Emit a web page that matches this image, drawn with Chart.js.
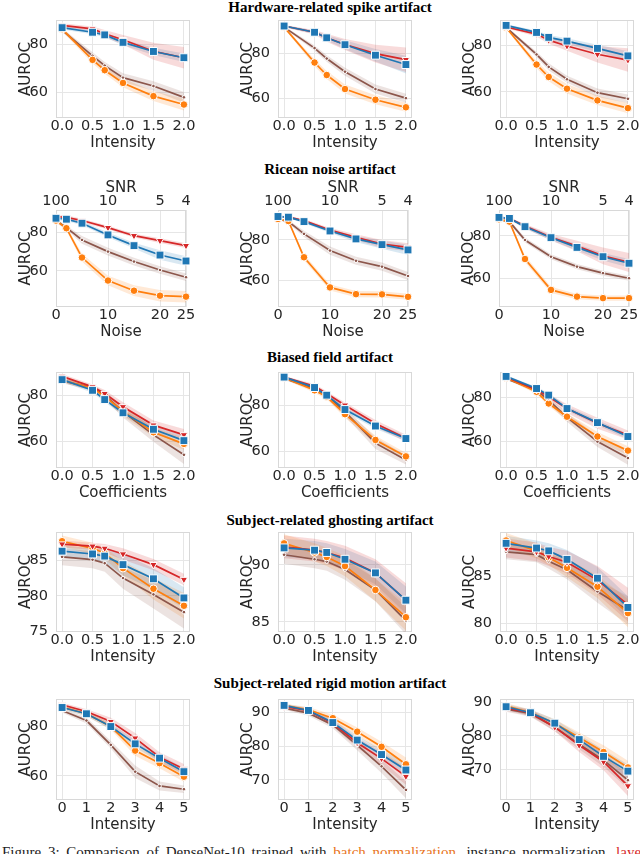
<!DOCTYPE html>
<html><head><meta charset="utf-8">
<script src="https://cdn.jsdelivr.net/npm/chart.js@4.4.1/dist/chart.umd.min.js"></script>
<style>
html,body{margin:0;padding:0;background:#fff;width:640px;height:854px;overflow:hidden;position:relative;}
.ttl{position:absolute;left:0;width:660px;text-align:center;font-family:"Liberation Serif","Times New Roman",serif;font-weight:bold;font-size:15px;line-height:15px;color:#000;white-space:nowrap;}
canvas{position:absolute;}
.cap{position:absolute;top:844px;left:2px;font-family:"Liberation Serif",serif;font-size:15px;line-height:16px;white-space:nowrap;color:#222;word-spacing:3px;}
</style></head><body>
<div class="ttl" style="top:0px">Hardware-related spike artifact</div>
<div class="ttl" style="top:162px">Ricean noise artifact</div>
<div class="ttl" style="top:350px">Biased field artifact</div>
<div class="ttl" style="top:513px">Subject-related ghosting artifact</div>
<div class="ttl" style="top:676px">Subject-related rigid motion artifact</div>
<div class="cap">Figure 3: Comparison of DenseNet-10 trained with <span style="color:#e8731a">batch normalization</span>, instance normalization, <span style="color:#d62728">layer normalization</span></div>
<script>
// ---------- x values / ticks ----------
const xIntensity = [0, 0.5, 0.7, 1.0, 1.5, 2.0];
const xIntensityTicks = [0, 0.5, 1.0, 1.5, 2.0];
const xNoise = [0, 2, 5, 10, 15, 20, 25];
const xNoiseTicks = [0, 10, 20, 25];
const snrTickPos = [0, 10, 20, 25];
const snrTickLabels = ['100', '10', '5', '4'];
const xMotion = [0, 1, 2, 3, 4, 5];
const xMotionTicks = [0, 1, 2, 3, 4, 5];

// ---------- Hardware-related spike ----------
const spikeA_red = [87.8, 86.3, 84.3, 81.8, 77.0, 74.3];
const spikeA_redSd = [0.8, 1.0, 1.5, 2.0, 3.5, 4.5];
const spikeA_blue = [86.8, 84.9, 83.8, 80.7, 76.9, 74.3];
const spikeA_blueSd = [0.8, 0.8, 1.0, 1.2, 1.5, 1.8];
const spikeA_orange = [86.2, 73.4, 69.1, 63.8, 58.3, 54.8];
const spikeA_orangeSd = [0.8, 1.5, 1.5, 1.8, 2.0, 2.5];
const spikeA_brown = [85.8, 75.1, 71.0, 66.0, 62.5, 57.8];
const spikeA_brownSd = [0.8, 1.5, 1.5, 1.8, 2.0, 2.2];

const spikeB_red = [92.4, 89.6, 87.1, 84.1, 80.0, 77.3];
const spikeB_redSd = [0.5, 1.0, 1.8, 2.5, 4.0, 5.5];
const spikeB_blue = [92.4, 89.6, 87.1, 84.0, 79.3, 75.1];
const spikeB_blueSd = [0.5, 0.8, 1.2, 2.0, 2.8, 4.0];
const spikeB_orange = [91.9, 76.0, 70.4, 64.1, 59.3, 55.9];
const spikeB_orangeSd = [0.5, 1.5, 1.8, 2.0, 2.0, 2.0];
const spikeB_brown = [91.9, 82.5, 77.8, 71.9, 64.1, 60.0];
const spikeB_brownSd = [0.5, 1.2, 1.5, 1.8, 2.0, 2.0];

const spikeC_red = [87.7, 84.7, 82.1, 79.6, 76.1, 73.6];
const spikeC_redSd = [0.5, 1.0, 1.5, 2.0, 3.5, 5.0];
const spikeC_blue = [88.4, 85.4, 83.3, 81.7, 78.6, 75.4];
const spikeC_blueSd = [0.5, 0.8, 1.0, 1.2, 1.5, 2.0];
const spikeC_orange = [87.5, 71.7, 66.4, 61.4, 56.4, 53.1];
const spikeC_orangeSd = [0.5, 1.5, 1.8, 2.0, 2.0, 2.2];
const spikeC_brown = [87.5, 76.0, 70.7, 65.4, 59.7, 57.1];
const spikeC_brownSd = [0.5, 1.2, 1.5, 1.5, 1.8, 1.8];

// ---------- Ricean noise ----------
const noiseA_red = [88.3, 88.0, 86.3, 82.6, 78.4, 75.8, 73.2];
const noiseA_redSd = [1, 1, 1, 1, 1, 1.2, 1.2];
const noiseA_blue = [87.5, 87.0, 84.9, 78.8, 73.2, 68.3, 65.2];
const noiseA_blueSd = [1, 1, 1, 1.2, 1.5, 2.5, 2.5];
const noiseA_orange = [86.3, 82.3, 67.0, 55.0, 49.7, 47.1, 46.6];
const noiseA_orangeSd = [1, 1, 2, 2.5, 2.8, 3, 3];
const noiseA_brown = [86.3, 82.6, 76.2, 70.1, 64.9, 60.5, 56.7];
const noiseA_brownSd = [1, 1, 2, 2, 2, 2, 2];

const noiseB_red = [91.5, 91.2, 89.5, 84.9, 81.3, 78.0, 76.4];
const noiseB_redSd = [0.5, 0.5, 0.8, 1, 1.5, 2, 2];
const noiseB_blue = [91.5, 91.2, 89.0, 84.4, 80.5, 77.7, 75.1];
const noiseB_blueSd = [0.5, 0.5, 0.8, 1, 1.5, 2, 2.5];
const noiseB_orange = [90.3, 89.3, 71.5, 56.7, 53.4, 53.3, 52.1];
const noiseB_orangeSd = [0.5, 0.5, 1.5, 1.5, 1.5, 1.5, 1.5];
const noiseB_brown = [90.3, 89.0, 83.0, 74.8, 69.8, 66.9, 62.3];
const noiseB_brownSd = [0.5, 0.8, 1.5, 2, 2, 2, 2];

const noiseC_red = [88.8, 88.3, 84.7, 79.4, 75.3, 70.6, 67.5];
const noiseC_redSd = [0.5, 0.5, 1, 1.5, 2.5, 4, 4.5];
const noiseC_blue = [88.8, 88.3, 84.4, 79.2, 74.6, 70.2, 67.1];
const noiseC_blueSd = [0.5, 0.5, 1, 1.2, 1.5, 1.8, 2];
const noiseC_orange = [87.9, 86.8, 69.1, 54.5, 51.3, 50.6, 50.6];
const noiseC_orangeSd = [0.5, 0.5, 1.5, 1.5, 1.2, 1.2, 1.2];
const noiseC_brown = [87.9, 86.8, 78.1, 70.2, 65.5, 62.4, 60.0];
const noiseC_brownSd = [0.5, 0.8, 1.2, 1.2, 1.2, 1.2, 1.2];

// ---------- Biased field ----------
const biasA_red = [88.1, 83.6, 80.7, 75.0, 67.1, 62.9];
const biasA_redSd = [1, 1, 1.5, 2, 2, 2.5];
const biasA_blue = [86.7, 82.1, 78.1, 72.4, 65.3, 60.4];
const biasA_blueSd = [1, 1, 1, 1.2, 1.5, 2];
const biasA_orange = [86.5, 83.0, 79.5, 73.0, 64.0, 59.0];
const biasA_orangeSd = [1, 1, 1.5, 2, 2, 2.5];
const biasA_brown = [86.1, 83.3, 80.0, 72.9, 62.9, 54.3];
const biasA_brownSd = [1, 1.2, 1.5, 2.5, 3, 4];

const biasB_red = [92.1, 88.1, 85.0, 80.0, 72.1, 65.7];
const biasB_redSd = [0.5, 1, 1, 1.2, 1.5, 1.5];
const biasB_blue = [92.1, 87.6, 84.3, 78.1, 71.0, 65.6];
const biasB_blueSd = [0.5, 1, 1, 1, 1.2, 1.2];
const biasB_orange = [91.8, 86.4, 83.6, 76.1, 65.0, 57.9];
const biasB_orangeSd = [0.5, 1, 1, 1.5, 1.8, 1.5];
const biasB_brown = [91.5, 87.1, 84.3, 77.1, 63.6, 56.4];
const biasB_brownSd = [0.5, 1, 1.2, 1.8, 2.5, 2];

const biasC_red = [89.3, 83.6, 80.3, 75.0, 68.3, 63.0];
const biasC_redSd = [0.5, 1, 1.2, 2, 2.5, 2];
const biasC_blue = [89.6, 84.1, 81.1, 75.0, 68.6, 62.3];
const biasC_blueSd = [0.5, 0.8, 1, 1, 1.2, 1.2];
const biasC_orange = [89.0, 82.6, 77.3, 71.3, 62.3, 55.9];
const biasC_orangeSd = [0.5, 1, 1.2, 1.5, 2, 2];
const biasC_brown = [88.6, 83.3, 78.8, 71.0, 60.0, 52.5];
const biasC_brownSd = [0.5, 1, 1.5, 2, 2.5, 3];

// ---------- Subject-related ghosting ----------
const ghostA_red = [87.3, 87.0, 86.7, 85.9, 84.4, 82.3];
const ghostA_redSd = [0.5, 0.5, 0.6, 0.8, 0.8, 0.8];
const ghostA_blue = [86.3, 85.9, 85.6, 84.4, 82.4, 79.7];
const ghostA_blueSd = [0.8, 0.8, 0.9, 1.5, 1.5, 1.5];
const ghostA_orange = [87.7, 86.7, 86.0, 83.9, 81.0, 78.6];
const ghostA_orangeSd = [0.8, 0.8, 0.8, 1.0, 1.5, 1.8];
const ghostA_brown = [85.5, 85.1, 84.6, 82.5, 80.2, 77.7];
const ghostA_brownSd = [1.2, 1.2, 1.2, 1.5, 2, 2.3];

const ghostB_red = [91.6, 91.3, 91.1, 90.6, 89.3, 86.9];
const ghostB_redSd = [1, 1, 1, 1.1, 1.2, 1.5];
const ghostB_blue = [91.5, 91.3, 91.1, 90.5, 89.3, 86.9];
const ghostB_blueSd = [0.8, 0.8, 0.8, 0.9, 1, 1.2];
const ghostB_orange = [91.9, 91.1, 90.7, 89.9, 87.8, 85.4];
const ghostB_orangeSd = [0.8, 0.8, 0.8, 0.9, 1, 1.2];
const ghostB_brown = [90.9, 90.5, 90.3, 89.6, 87.8, 85.1];
const ghostB_brownSd = [0.8, 0.8, 0.8, 0.9, 1, 1.2];

const ghostC_red = [88.0, 87.6, 87.1, 86.5, 84.6, 82.0];
const ghostC_redSd = [1, 1, 1, 1.2, 1.5, 1.8];
const ghostC_blue = [88.5, 88.0, 87.7, 86.8, 84.8, 81.7];
const ghostC_blueSd = [0.8, 0.8, 0.8, 1, 1.2, 1.2];
const ghostC_orange = [88.8, 87.7, 87.0, 85.9, 83.9, 81.1];
const ghostC_orangeSd = [0.8, 0.8, 0.8, 1, 1.2, 1.5];
const ghostC_brown = [87.6, 87.3, 86.6, 85.7, 83.4, 81.4];
const ghostC_brownSd = [0.8, 0.8, 0.8, 1, 1.2, 1.5];

// ---------- Subject-related rigid motion ----------
const motionA_red = [88.4, 85.7, 81.7, 75.1, 67.5, 62.8];
const motionA_redSd = [0.8, 1, 1.5, 2, 2, 2];
const motionA_blue = [87.3, 84.8, 79.7, 72.8, 67.1, 61.7];
const motionA_blueSd = [0.8, 1, 1.2, 1.5, 1.5, 1.5];
const motionA_orange = [87.5, 84.8, 79.7, 70.1, 65.1, 59.7];
const motionA_orangeSd = [0.8, 1, 1.2, 2, 2, 2];
const motionA_brown = [86.1, 82.1, 72.4, 61.7, 56.0, 54.7];
const motionA_brownSd = [0.8, 1.2, 1.5, 2.5, 1.8, 1.5];

const motionB_red = [91.8, 90.5, 86.8, 81.0, 76.3, 71.0];
const motionB_redSd = [0.5, 0.8, 1, 1.5, 2, 2.5];
const motionB_blue = [92.1, 90.6, 87.0, 81.8, 77.5, 72.9];
const motionB_blueSd = [0.5, 0.8, 1, 1.2, 1.5, 2];
const motionB_orange = [92.1, 90.8, 88.3, 84.3, 79.8, 74.6];
const motionB_orangeSd = [0.5, 0.8, 1, 1.2, 1.5, 2];
const motionB_brown = [91.3, 89.8, 86.3, 80.3, 74.0, 67.0];
const motionB_brownSd = [0.5, 0.8, 1, 1.5, 2, 2.5];

const motionC_red = [88.3, 86.9, 82.6, 77.2, 72.3, 65.1];
const motionC_redSd = [0.8, 1, 1.2, 2, 2.5, 3];
const motionC_blue = [88.7, 86.9, 83.8, 78.9, 73.9, 69.5];
const motionC_blueSd = [0.8, 1, 1.2, 1.5, 2, 2];
const motionC_orange = [89.0, 86.9, 83.8, 79.5, 75.2, 70.6];
const motionC_orangeSd = [0.8, 1, 1.2, 1.5, 2, 2];
const motionC_brown = [88.0, 86.7, 82.6, 77.5, 72.8, 66.8];
const motionC_brownSd = [0.8, 1, 1.2, 1.5, 2, 2.5];

// ---------- y-axis limits & ticks ----------
const yLim = {
  spikeA:[49.2,90], spikeB:[51.1,95.1], spikeC:[48.9,90.7],
  noiseA:[41.2,91.8], noiseB:[47.1,94.7], noiseC:[46.4,92.3],
  biasA:[48.6,90], biasB:[52.9,94.3], biasC:[48,91.6],
  ghostA:[74.9,89], ghostB:[84.1,92.9], ghostC:[79.1,89.7],
  motionA:[50.4,90.7], motionB:[64,94], motionC:[60.9,91]
};
const yTicks = {
  spikeA:[60,80], spikeB:[60,80], spikeC:[60,80],
  noiseA:[60,80], noiseB:[60,80], noiseC:[60,80],
  biasA:[60,80], biasB:[60,80], biasC:[60,80],
  ghostA:[75,80,85], ghostB:[85,90], ghostC:[80,85],
  motionA:[60,80], motionB:[70,80,90], motionC:[70,80,90]
};

// ---------- layout ----------
const COL_LEFT = [56, 278, 500];
const PLOT_W = 134;
const NOISE_LEFT = [56, 278, 499];
const NOISE_W = 130;
const ROW_TOP = [20, 210, 372, 532, 699];
const ROW_H = [98, 97, 96, 100, 101];

const COL = {red:'#d62728', blue:'#1f77b4', orange:'#ff7f0e', brown:'#8c564b'};
const BAND = {red:'rgba(214,39,40,0.17)', blue:'rgba(31,119,180,0.17)', orange:'rgba(255,127,14,0.17)', brown:'rgba(140,86,75,0.17)'};
const MARK = {
  red:{pointStyle:'triangle', pointRadius:4.3, pointRotation:180},
  blue:{pointStyle:'rect', pointRadius:5.6, pointRotation:0},
  orange:{pointStyle:'circle', pointRadius:3.8, pointRotation:0},
  brown:{pointStyle:'circle', pointRadius:1.8, pointRotation:0}
};
const SERIES = ['brown','orange','red','blue'];

const rowDefs = [
  {key:'spike', x:xIntensity, xt:xIntensityTicks, xmin:-0.1, xmax:2.1, xTitle:'Intensity', fmt:v=>v.toFixed(1)},
  {key:'noise', x:xNoise, xt:xNoiseTicks, xmin:0, xmax:25, xTitle:'Noise', fmt:v=>String(v), snr:true},
  {key:'bias', x:xIntensity, xt:xIntensityTicks, xmin:-0.1, xmax:2.1, xTitle:'Coefficients', fmt:v=>v.toFixed(1)},
  {key:'ghost', x:xIntensity, xt:xIntensityTicks, xmin:-0.1, xmax:2.1, xTitle:'Intensity', fmt:v=>v.toFixed(1)},
  {key:'motion', x:xMotion, xt:xMotionTicks, xmin:-0.25, xmax:5.25, xTitle:'Intensity', fmt:v=>String(v)}
];
const seriesData = {
  spikeA:{red:[spikeA_red,spikeA_redSd],blue:[spikeA_blue,spikeA_blueSd],orange:[spikeA_orange,spikeA_orangeSd],brown:[spikeA_brown,spikeA_brownSd]},
  spikeB:{red:[spikeB_red,spikeB_redSd],blue:[spikeB_blue,spikeB_blueSd],orange:[spikeB_orange,spikeB_orangeSd],brown:[spikeB_brown,spikeB_brownSd]},
  spikeC:{red:[spikeC_red,spikeC_redSd],blue:[spikeC_blue,spikeC_blueSd],orange:[spikeC_orange,spikeC_orangeSd],brown:[spikeC_brown,spikeC_brownSd]},
  noiseA:{red:[noiseA_red,noiseA_redSd],blue:[noiseA_blue,noiseA_blueSd],orange:[noiseA_orange,noiseA_orangeSd],brown:[noiseA_brown,noiseA_brownSd]},
  noiseB:{red:[noiseB_red,noiseB_redSd],blue:[noiseB_blue,noiseB_blueSd],orange:[noiseB_orange,noiseB_orangeSd],brown:[noiseB_brown,noiseB_brownSd]},
  noiseC:{red:[noiseC_red,noiseC_redSd],blue:[noiseC_blue,noiseC_blueSd],orange:[noiseC_orange,noiseC_orangeSd],brown:[noiseC_brown,noiseC_brownSd]},
  biasA:{red:[biasA_red,biasA_redSd],blue:[biasA_blue,biasA_blueSd],orange:[biasA_orange,biasA_orangeSd],brown:[biasA_brown,biasA_brownSd]},
  biasB:{red:[biasB_red,biasB_redSd],blue:[biasB_blue,biasB_blueSd],orange:[biasB_orange,biasB_orangeSd],brown:[biasB_brown,biasB_brownSd]},
  biasC:{red:[biasC_red,biasC_redSd],blue:[biasC_blue,biasC_blueSd],orange:[biasC_orange,biasC_orangeSd],brown:[biasC_brown,biasC_brownSd]},
  ghostA:{red:[ghostA_red,ghostA_redSd],blue:[ghostA_blue,ghostA_blueSd],orange:[ghostA_orange,ghostA_orangeSd],brown:[ghostA_brown,ghostA_brownSd]},
  ghostB:{red:[ghostB_red,ghostB_redSd],blue:[ghostB_blue,ghostB_blueSd],orange:[ghostB_orange,ghostB_orangeSd],brown:[ghostB_brown,ghostB_brownSd]},
  ghostC:{red:[ghostC_red,ghostC_redSd],blue:[ghostC_blue,ghostC_blueSd],orange:[ghostC_orange,ghostC_orangeSd],brown:[ghostC_brown,ghostC_brownSd]},
  motionA:{red:[motionA_red,motionA_redSd],blue:[motionA_blue,motionA_blueSd],orange:[motionA_orange,motionA_orangeSd],brown:[motionA_brown,motionA_brownSd]},
  motionB:{red:[motionB_red,motionB_redSd],blue:[motionB_blue,motionB_blueSd],orange:[motionB_orange,motionB_orangeSd],brown:[motionB_brown,motionB_brownSd]},
  motionC:{red:[motionC_red,motionC_redSd],blue:[motionC_blue,motionC_blueSd],orange:[motionC_orange,motionC_orangeSd],brown:[motionC_brown,motionC_brownSd]}
};

const FONT = 'DejaVu Sans';
const TXT = '#262626';
const GRID = '#e6e6e6';

const framePlugin = {
  id:'frame',
  beforeDatasetsDraw(c){
    const a = c.chartArea, ctx = c.ctx;
    ctx.save();
    ctx.strokeStyle = '#d8d8d8'; ctx.lineWidth = 1;
    ctx.strokeRect(Math.round(a.left)+0.5, Math.round(a.top)+0.5, Math.round(a.right-a.left)-1, Math.round(a.bottom-a.top)-1);
    ctx.restore();
  }
};

function buildDatasets(xs, sd) {
  const ds = [];
  SERIES.forEach((s, i) => {
    const [m, e] = sd[s];
    const pts = f => xs.map((x, k) => ({x, y: f(k)}));
    ds.push({data: pts(k => m[k] + e[k]), borderColor:'transparent', borderWidth:0, pointRadius:0, fill:false, order:20+i});
    ds.push({data: pts(k => m[k] - e[k]), borderColor:'transparent', borderWidth:0, pointRadius:0, fill:'-1', backgroundColor:BAND[s], order:20+i});
    ds.push(Object.assign({data: pts(k => m[k]), borderColor:COL[s], borderWidth:1.7, backgroundColor:COL[s],
      pointBackgroundColor:COL[s], pointBorderColor:'#fff', pointBorderWidth:1, fill:false, order:10-i, clip:false}, MARK[s]));
  });
  return ds;
}

const letters = ['A','B','C'];
rowDefs.forEach((rd, r) => {
  for (let c = 0; c < 3; c++) {
    const key = rd.key + letters[c];
    const pl = rd.snr ? NOISE_LEFT[c] : COL_LEFT[c];
    const pw = rd.snr ? NOISE_W : PLOT_W;
    const pt = ROW_TOP[r], ph = ROW_H[r];
    const cv = document.createElement('canvas');
    const W = pw + 56 + 24, H = ph + 80;
    cv.width = W; cv.height = H;
    cv.style.left = (pl - 56) + 'px'; cv.style.top = (pt - 40) + 'px';
    cv.style.width = W + 'px'; cv.style.height = H + 'px';
    document.body.appendChild(cv);
    const yt = yTicks[key];
    const scales = {
      x: {
        type:'linear', position:'bottom', min:rd.xmin, max:rd.xmax,
        afterBuildTicks: s => { s.ticks = rd.xt.map(v => ({value:v})); },
        afterFit: s => { s.height = 40; },
        grid:{color:GRID, lineWidth:1, drawTicks:false},
        border:{display:false},
        ticks:{padding:0, autoSkip:false, maxRotation:0, color:TXT, font:{family:FONT, size:14.5}, callback: v => rd.fmt(v)},
        title:{display:true, text:rd.xTitle, color:TXT, font:{family:FONT, size:15}, padding:{top:0, bottom:6}}
      },
      y: {
        type:'linear', position:'left', min:yLim[key][0], max:yLim[key][1],
        afterBuildTicks: s => { s.ticks = yt.map(v => ({value:v})); },
        afterFit: s => { s.width = 56; },
        grid:{color:GRID, lineWidth:1, drawTicks:false},
        border:{display:false},
        ticks:{padding:8, autoSkip:false, color:TXT, font:{family:FONT, size:14.5}, callback: v => String(v)},
        title:{display:true, text:'AUROC', color:TXT, font:{family:FONT, size:15}, padding:{top:17, bottom:0}}
      }
    };
    if (rd.snr) {
      scales.x2 = {
        type:'linear', position:'top', min:rd.xmin, max:rd.xmax,
        afterBuildTicks: s => { s.ticks = snrTickPos.map(v => ({value:v})); },
        afterFit: s => { s.height = 40; },
        grid:{display:false, drawTicks:false},
        border:{display:false},
        ticks:{padding:0, autoSkip:false, maxRotation:0, color:TXT, font:{family:FONT, size:14.5},
               callback: v => snrTickLabels[snrTickPos.indexOf(v)]},
        title:{display:true, text:'SNR', color:TXT, font:{family:FONT, size:15}, padding:{top:9, bottom:0}}
      };
    }
    new Chart(cv, {
      type:'line',
      data:{datasets: buildDatasets(rd.x, seriesData[key])},
      options:{
        responsive:false, animation:false, devicePixelRatio:1,
        layout:{padding:{left:0, right:24, top: rd.snr ? 0 : 40, bottom:0}},
        elements:{line:{tension:0}},
        plugins:{legend:{display:false}, tooltip:{enabled:false}, title:{display:false}},
        scales
      },
      plugins:[framePlugin]
    });
  }
});
</script>
</body></html>
